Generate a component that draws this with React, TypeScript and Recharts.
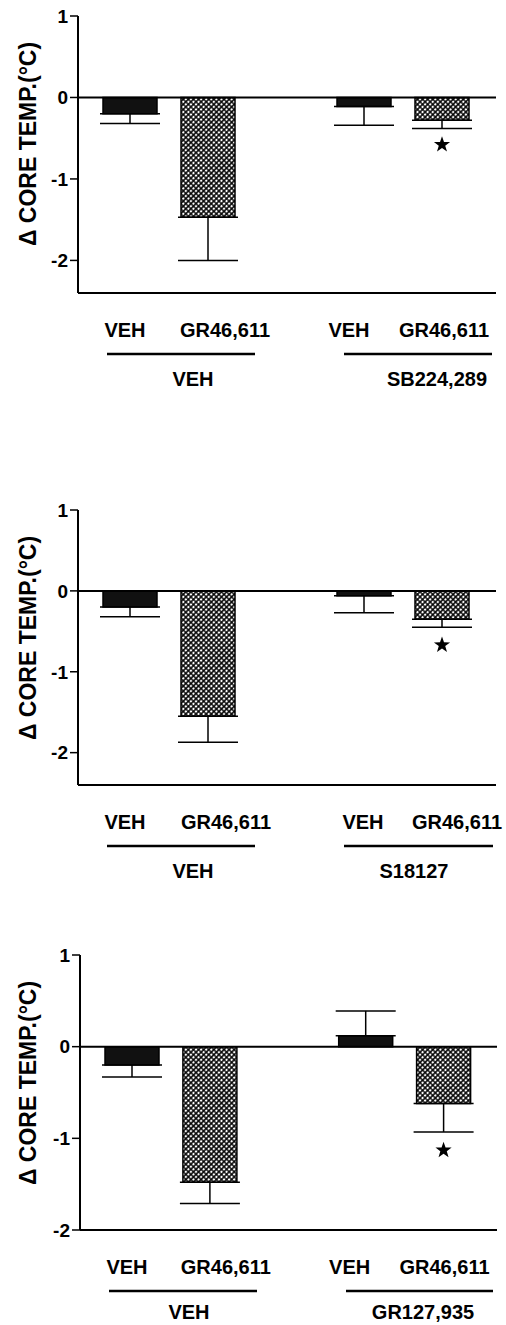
import React from 'react';
import { ComposedChart, Bar, Cell, ErrorBar, Scatter, XAxis, YAxis, ReferenceLine } from 'recharts';

// bar slots: two groups of two, with an empty slot between them
const slots = ['veh1', 'gr1', 'gap', 'veh2', 'gr2'];
const barLabels = ['VEH', 'GR46,611', '', 'VEH', 'GR46,611'];
const yTicks = [-2, -1, 0, 1];

// panel 1: SB224,289
const means1 = [-0.2, -1.47, null, -0.11, -0.28];
const sems1 = [0.12, 0.53, null, 0.23, 0.1];
const stars1 = [null, null, null, null, -0.58];
const groups1 = ['VEH', 'SB224,289'];

// panel 2: S18127
const means2 = [-0.2, -1.55, null, -0.06, -0.35];
const sems2 = [0.12, 0.32, null, 0.21, 0.1];
const stars2 = [null, null, null, null, -0.67];
const groups2 = ['VEH', 'S18127'];

// panel 3: GR127,935
const means3 = [-0.2, -1.48, null, 0.12, -0.62];
const sems3 = [0.13, 0.23, null, 0.27, 0.31];
const stars3 = [null, null, null, null, -1.13];
const groups3 = ['VEH', 'GR127,935'];

const FONT = '"Liberation Sans", Arial, Helvetica, sans-serif';

const buildRows = (means: (number | null)[], sems: (number | null)[], stars: (number | null)[]) =>
  slots.map((key, i) => {
    const v = means[i];
    const s = sems[i];
    return {
      key,
      value: v,
      // one-sided error bars, pointing away from zero
      err: v == null || s == null ? null : v < 0 ? [s, 0] : [0, s],
      star: stars[i],
    };
  });

const StarShape = (props: any) => {
  const { cx, cy, payload } = props;
  if (payload == null || payload.star == null || !isFinite(cx) || !isFinite(cy)) return null;
  const outer = 8.5;
  const inner = 3.4;
  let d = '';
  for (let k = 0; k < 10; k++) {
    const r = k % 2 === 0 ? outer : inner;
    const a = -Math.PI / 2 + (k * Math.PI) / 5;
    d += (k === 0 ? 'M' : 'L') + (cx + r * Math.cos(a)).toFixed(2) + ' ' + (cy + r * Math.sin(a)).toFixed(2);
  }
  return <path d={d + 'Z'} fill="#000" />;
};

interface PanelProps {
  id: string;
  top: number;
  height: number;
  plotTop: number;
  plotBottom: number;
  axisX: number;
  right: number;
  pad: { left: number; right: number };
  domain: [number, number];
  means: (number | null)[];
  sems: (number | null)[];
  stars: (number | null)[];
  groups: string[];
  tickShift: number[];
  groupLines: [number, number][];
  groupCenters: number[];
  groupDy: number;
}

const Panel: React.FC<PanelProps> = (p) => {
  const rows = buildRows(p.means, p.sems, p.stars);
  const axisH = 30;
  const bottomOff = p.height - p.plotBottom;
  const hatchId = 'hatch-' + p.id;

  const renderTick = (t: any) => {
    const label = barLabels[t.index];
    if (!label) return null;
    return (
      <text
        x={t.x + p.tickShift[t.index]}
        y={t.y + 44}
        textAnchor="middle"
        fontFamily={FONT}
        fontWeight="bold"
        fontSize={20}
        fill="#000"
      >
        {label}
      </text>
    );
  };

  return (
    <div style={{ position: 'absolute', left: 0, top: p.top, width: 506, height: p.height }}>
      <ComposedChart
        width={506}
        height={p.height}
        data={rows}
        margin={{ top: p.plotTop, right: p.right, bottom: bottomOff - axisH, left: 0 }}
      >
        <defs>
          <pattern id={hatchId} width="3.6" height="3.6" patternUnits="userSpaceOnUse" patternTransform="rotate(45)">
            <rect width="3.6" height="3.6" fill="#fff" />
            <path d="M0 1.8 H3.6 M1.8 0 V3.6" stroke="#000" strokeWidth="1.5" />
          </pattern>
        </defs>
        <XAxis
          dataKey="key"
          type="category"
          height={axisH}
          padding={p.pad}
          interval={0}
          tickLine={false}
          tickSize={0}
          tickMargin={0}
          axisLine={{ stroke: '#000', strokeWidth: 2 }}
          tick={renderTick}
        />
        <YAxis
          width={p.axisX}
          type="number"
          domain={p.domain}
          ticks={yTicks}
          interval={0}
          tickSize={8}
          tickMargin={2}
          axisLine={{ stroke: '#000', strokeWidth: 2 }}
          tickLine={{ stroke: '#000', strokeWidth: 1.5 }}
          tick={{ fill: '#000', fontSize: 19, fontWeight: 700, fontFamily: FONT }}
        />
        <Bar dataKey="value" barSize={54} stroke="#000" strokeWidth={1.5} isAnimationActive={false}>
          {rows.map((r, i) => (
            <Cell key={r.key} fill={i % 3 === 0 ? '#111' : i === 2 ? 'none' : `url(#${hatchId})`} />
          ))}
          <ErrorBar dataKey="err" direction="y" width={30} stroke="#000" strokeWidth={1.5} />
        </Bar>
        <ReferenceLine y={0} stroke="#000" strokeWidth={2} />
        <Scatter dataKey="star" shape={StarShape} isAnimationActive={false} />
        <text
          x={28}
          y={p.plotTop + 128}
          transform={`rotate(-90, 28, ${p.plotTop + 128})`}
          textAnchor="middle"
          dominantBaseline="central"
          fontFamily={FONT}
          fontWeight="bold"
          fontSize={23}
          fill="#000"
        >
          Δ CORE TEMP.(°C)
        </text>
        {p.groupLines.map(([x1, x2], i) => (
          <line key={'gl' + i} x1={x1} x2={x2} y1={p.plotBottom + 61} y2={p.plotBottom + 61} stroke="#000" strokeWidth={2.5} />
        ))}
        {p.groups.map((g, i) => (
          <text
            key={'gt' + i}
            x={p.groupCenters[i]}
            y={p.plotBottom + p.groupDy}
            textAnchor="middle"
            fontFamily={FONT}
            fontWeight="bold"
            fontSize={20}
            fill="#000"
          >
            {g}
          </text>
        ))}
      </ComposedChart>
    </div>
  );
};

const App: React.FC = () => {
  return (
    <div style={{ position: 'absolute', left: 0, top: 0, width: 506, height: 1325, background: '#fff' }}>
      <Panel
        id="p1"
        top={0}
        height={400}
        plotTop={16}
        plotBottom={293}
        axisX={78}
        right={10}
        pad={{ left: 13, right: 15 }}
        domain={[-2.4, 1]}
        means={means1}
        sems={sems1}
        stars={stars1}
        groups={groups1}
        tickShift={[-5, 17, 0, -15, 2]}
        groupLines={[[107, 255], [344, 492]]}
        groupCenters={[193, 437]}
        groupDy={93}
      />
      <Panel
        id="p2"
        top={490}
        height={400}
        plotTop={20}
        plotBottom={295}
        axisX={78}
        right={10}
        pad={{ left: 13, right: 15 }}
        domain={[-2.4, 1]}
        means={means2}
        sems={sems2}
        stars={stars2}
        groups={groups2}
        tickShift={[-5, 18, 0, -1, 15]}
        groupLines={[[107, 255], [344, 493]]}
        groupCenters={[193, 414]}
        groupDy={93}
      />
      <Panel
        id="p3"
        top={930}
        height={395}
        plotTop={25}
        plotBottom={300}
        axisX={80}
        right={9}
        pad={{ left: 13, right: 14.5 }}
        domain={[-2, 1]}
        means={means3}
        sems={sems3}
        stars={stars3}
        groups={groups3}
        tickShift={[-5, 16, 0, -16, 1]}
        groupLines={[[109, 257], [346, 493]]}
        groupCenters={[189, 423]}
        groupDy={89}
      />
    </div>
  );
};

export default App;
